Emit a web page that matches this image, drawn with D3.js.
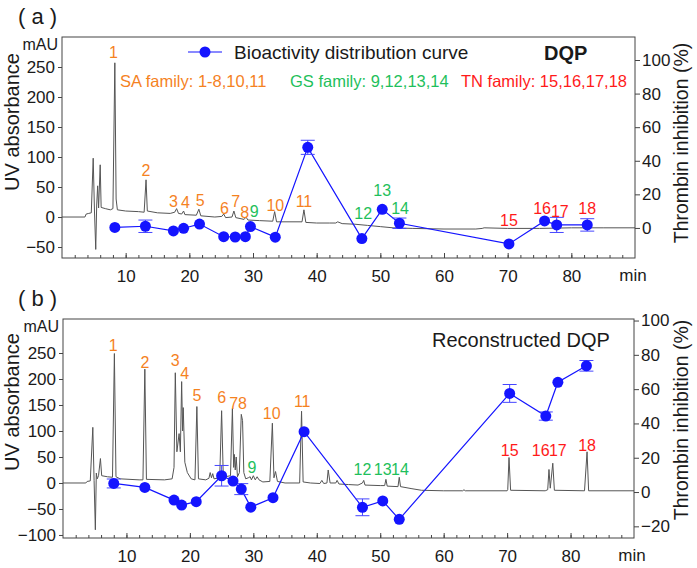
<!DOCTYPE html>
<html>
<head>
<meta charset="utf-8">
<script src="https://cdn.jsdelivr.net/npm/d3@7"></script>
<style>
body { margin: 0; background: #fff; }
svg { font-family: "Liberation Sans", Arial, sans-serif; }
</style>
</head>
<body>
<script>
// peak families
var saPeaks = [1, 2, 3, 4, 5, 6, 7, 8, 10, 11];
var gsPeaks = [9, 12, 13, 14];
var tnPeaks = [15, 16, 17, 18];
var peakIds = [1, 2, 3, 4, 5, 6, 7, 8, 9, 10, 11, 12, 13, 14, 15, 16, 17, 18];

// tick labels
var timeTicks = [10, 20, 30, 40, 50, 60, 70, 80];
var mauTicksA = [-50, 0, 50, 100, 150, 200, 250];
var mauTicksB = [-100, -50, 0, 50, 100, 150, 200, 250];
var inhTicksA = [0, 20, 40, 60, 80, 100];
var inhTicksB = [-20, 0, 20, 40, 60, 80, 100];

// (a) DQP chromatogram, min / mAU
var chromTimeA = [0, 3.6, 3.8, 4.2, 4.6, 4.9, 5.1, 5.3, 5.45, 5.6, 5.75, 6.0, 6.15, 6.8, 7.6, 8.0, 8.3, 8.5, 8.7,
    10, 12, 12.9, 13.2, 13.4, 15, 17, 17.7, 18.0, 18.3, 18.8, 19.1, 19.3, 21.1, 21.5, 21.8, 24, 25.1, 25.4, 25.7,
    26.7, 27.0, 27.3, 28.6, 28.9, 29.2, 31, 33.1, 33.4, 33.7, 37.7, 38.0, 38.3, 40, 42, 43, 43.3, 44, 46, 48, 50,
    52, 55, 60, 65, 66, 66.3, 70, 75, 80, 85, 90];
var chromMauA = [0, 0, 5, 6, 7, 98, 10, -54, 20, 52, 15, 87, 16, 14, 12, 14, 257, 30, 12,
    10, 9, 8, 62, 10, 7, 6, 8, 14, 6, 5, 10, 4, 3, 13, 2, 0, 1, 5, -1,
    0, 10, -1, -4, 0, -5, -6, -7, 9, -8, -8, 12, -9, -10, -10, -10, -8, -11, -12, -14, -16,
    -18, -19, -20, -20, -19, -18, -19, -19, -18, -18, -18];

// (a) bioactivity, min / % inhibition / error
var bioTimeA = [8.3, 13.1, 17.5, 19.1, 21.6, 25.4, 27.2, 28.8, 29.6, 33.5, 38.6, 47.1, 50.3, 53.0, 70.2, 75.8, 77.7, 82.5];
var bioInhA = [0.3, 1.0, -1.8, -0.2, 2.3, -5.2, -5.4, -5.2, 0.8, -5.5, 48, -6.3, 11.1, 2.8, -9.5, 4.2, 1.8, 1.8];
var bioErrA = [0, 3.7, 0, 0, 0, 0, 0, 0, 0, 0, 4.2, 0, 0, 3.1, 0, 0, 4.5, 3.7];

// (a) peak label anchors, min / mAU
var labelTimeA = [8.1, 13.2, 17.5, 19.4, 21.7, 25.5, 27.3, 28.7, 30.2, 33.5, 38.0, 47.3, 50.3, 53.1, 70.2, 75.4, 78.2, 82.5];
var labelMauA = [275, 78, 27, 25, 28, 14.5, 26, 8, 9, 20, 27, 6, 45, 14.5, -5, 14.5, 9, 14.5];

// (b) reconstructed DQP chromatogram, min / mAU
var chromTimeB = [0, 3.6, 3.8, 4.3, 4.7, 4.9, 5.1, 5.25, 5.4, 5.6, 5.9, 6.1, 7, 7.8, 8.1, 8.35, 9, 12, 12.6, 12.9, 13.15,
    16, 17.2, 17.5, 17.7, 17.95, 18.3, 18.5, 18.7, 18.85, 18.95, 19.2, 19.6, 20.2, 20.8, 21.1, 21.35, 22.5, 23.0,
    23.2, 23.4, 23.6, 23.8, 24.7, 25.0, 25.25, 25.6, 26.4, 26.7, 26.9, 27.0, 27.15, 27.3, 27.5, 27.8, 28.1, 28.3,
    28.5, 28.8, 29.2, 29.5, 29.7, 30.0, 30.3, 30.6, 30.9, 31.5, 32.6, 33.0, 33.25, 33.5, 33.8, 35, 37.3, 37.6, 37.85,
    39, 40.5, 40.8, 41.1, 41.6, 41.8, 42.1, 43, 43.2, 43.5, 45, 46.5, 47.2, 47.4, 47.6, 50, 50.7, 50.9, 51.1, 52.8,
    53.0, 53.2, 55, 56.5, 60, 63, 63.2, 63.4, 70, 70.1, 70.3, 70.55, 76, 76.4, 76.6, 76.8, 77.2, 77.45, 82.2, 82.6,
    82.85, 90];
var chromMauB = [0, 0, 3, 4, 107, 5, -90, 19, 8, 14, 47, 14, 12, 11, 249, 12, 8, 6, 6, 219, 7,
    6, 8, 30, 212, 60, 95, 60, 195, 100, 145, 40, 20, 8, 6, 147, 8, 6, 9,
    20, 10, 18, 8, 10, 139, 20, 12, 14, 143, 30, 55, 25, 50, 12, 20, 132, 120,
    20, 8, 10, 12, 6, 14, 6, 12, 6, 2, 3, 115, 10, 22, 3, 0, 0, 138, 2,
    0, -1, 5, -1, 0, 25, 0, 0, 5, -2, -3, -4, 0, 5, -4, -5, -5, 7, -6, -7,
    11, -7, -11, -14, -15, -15, -13, -15, -15, -13, 49, -14, -15, -13, 26, -10, 38, -14, -15, 60,
    -15, -15];

// (b) bioactivity
var bioTimeB = [8.0, 12.9, 17.5, 18.7, 21.0, 25.0, 26.8, 28.1, 29.6, 33.1, 38.0, 47.2, 50.4, 53.0, 70.4, 76.1, 78.0, 82.5];
var bioInhB = [5.0, 2.7, -4.7, -7.6, -5.6, 9.5, 6.4, 1.7, -8.8, -3.3, 35.2, -8.9, -5.2, -15.9, 57.5, 44.3, 64, 73.6];
var bioErrB = [2.6, 0, 0, 0, 0, 6, 0, 3.2, 0, 0, 0, 4.9, 0, 0, 5.2, 2.4, 0, 3.1];

// (b) peak label anchors
var labelTimeB = [7.9, 12.9, 17.7, 19.2, 21.1, 25.0, 26.9, 28.3, 29.8, 32.9, 37.7, 47.2, 50.4, 53.1, 70.4, 75.3, 78.0, 82.6];
var labelMauB = [265, 233, 236, 211, 169, 165, 154, 154, 31, 135, 158, 26, 26, 26, 63, 63, 63, 73];

var orange = "#f5821f";
var green = "#1fbf5c";
var red = "#ff1a1a";
var blue = "#1414ff";

function familyColor(id) {
    if (saPeaks.indexOf(id) >= 0) return orange;
    if (gsPeaks.indexOf(id) >= 0) return green;
    return red;
}

var width = 697;
var height = 568;

var svg = d3.select('body')
    .append('svg')
    .attr('width', width)
    .attr('height', height);

function drawPanel(p) {
    var g = svg.append('g');
    var x = d3.scaleLinear().domain([0, 90]).range([p.left, p.right]);
    var yL = d3.scaleLinear().domain(p.mauDomain).range([p.bottom, p.top]);
    var yR = d3.scaleLinear().domain(p.inhDomain).range([p.bottom, p.top]);

    // chromatogram
    var trace = p.chromTime.map(function (t, i) { return [t, p.chromMau[i]]; });
    g.append('path')
        .datum(trace)
        .attr('fill', 'none')
        .attr('stroke', '#555')
        .attr('stroke-width', 1)
        .attr('stroke-linejoin', 'round')
        .attr('d', d3.line()
            .x(function (d) { return x(d[0]); })
            .y(function (d) { return yL(d[1]); }));

    // bioactivity curve
    var bio = p.bioTime.map(function (t, i) { return {t: t, v: p.bioInh[i], e: p.bioErr[i]}; });
    g.append('path')
        .datum(bio)
        .attr('fill', 'none')
        .attr('stroke', blue)
        .attr('stroke-width', 1.2)
        .attr('d', d3.line()
            .x(function (d) { return x(d.t); })
            .y(function (d) { return yR(d.v); }));

    var err = g.selectAll('g.err')
        .data(bio.filter(function (d) { return d.e > 0; }))
        .enter()
        .append('g')
        .attr('stroke', '#4646ff')
        .attr('stroke-width', 1);
    err.append('line')
        .attr('x1', function (d) { return x(d.t); })
        .attr('x2', function (d) { return x(d.t); })
        .attr('y1', function (d) { return yR(d.v - d.e); })
        .attr('y2', function (d) { return yR(d.v + d.e); });
    [-1, 1].forEach(function (s) {
        err.append('line')
            .attr('x1', function (d) { return x(d.t) - 7; })
            .attr('x2', function (d) { return x(d.t) + 7; })
            .attr('y1', function (d) { return yR(d.v + s * d.e); })
            .attr('y2', function (d) { return yR(d.v + s * d.e); });
    });

    g.selectAll('circle.bio')
        .data(bio)
        .enter()
        .append('circle')
        .attr('cx', function (d) { return x(d.t); })
        .attr('cy', function (d) { return yR(d.v); })
        .attr('r', 5.5)
        .attr('fill', blue);

    // peak numbers
    g.selectAll('text.peak')
        .data(peakIds)
        .enter()
        .append('text')
        .text(function (d) { return d; })
        .attr('x', function (d, i) { return x(p.labelTime[i]); })
        .attr('y', function (d, i) { return yL(p.labelMau[i]); })
        .attr('dy', '0.36em')
        .attr('text-anchor', 'middle')
        .attr('font-size', 16)
        .attr('fill', function (d) { return familyColor(d); });

    // frame
    g.append('rect')
        .attr('x', p.left)
        .attr('y', p.top)
        .attr('width', p.right - p.left)
        .attr('height', p.bottom - p.top)
        .attr('fill', 'none')
        .attr('stroke', '#444')
        .attr('stroke-width', 1);

    // axes
    var minor = g.append('g')
        .attr('transform', 'translate(0,' + p.bottom + ')')
        .call(d3.axisBottom(x).tickValues(d3.range(2, 90, 2)).tickSize(-3).tickFormat(''));
    minor.select('.domain').remove();
    minor.selectAll('line').attr('stroke', '#444');

    var xAxis = g.append('g')
        .attr('transform', 'translate(0,' + p.bottom + ')')
        .call(d3.axisBottom(x).tickValues(timeTicks).tickSize(-5).tickPadding(12));
    xAxis.select('.domain').remove();

    var lAxis = g.append('g')
        .attr('transform', 'translate(' + p.left + ',0)')
        .call(d3.axisLeft(yL).tickValues(p.mauTicks).tickSize(4).tickPadding(3));
    lAxis.select('.domain').remove();

    var rAxis = g.append('g')
        .attr('transform', 'translate(' + p.right + ',0)')
        .call(d3.axisRight(yR).tickValues(p.inhTicks).tickSize(5).tickPadding(2));
    rAxis.select('.domain').remove();

    [xAxis, lAxis, rAxis].forEach(function (a) {
        a.attr('font-family', null).attr('font-size', 17);
        a.selectAll('line').attr('stroke', '#444');
        a.selectAll('text').attr('fill', '#1a1a1a');
    });

    g.append('text')
        .text('min')
        .attr('x', p.right - 2)
        .attr('y', p.bottom + 23)
        .attr('text-anchor', 'middle')
        .attr('font-size', 17)
        .attr('fill', '#1a1a1a');

    g.append('text')
        .text('mAU')
        .attr('x', p.left - 4)
        .attr('y', p.top + 13)
        .attr('text-anchor', 'end')
        .attr('font-size', 16)
        .attr('fill', '#1a1a1a');

    g.append('text')
        .text('UV absorbance')
        .attr('transform', 'translate(19,' + p.uvCenter + ') rotate(-90)')
        .attr('text-anchor', 'middle')
        .attr('font-size', 20)
        .attr('fill', '#1a1a1a');

    g.append('text')
        .text('Thrombin inhibition (%)')
        .attr('transform', 'translate(688,' + p.inhCenter + ') rotate(-90)')
        .attr('text-anchor', 'middle')
        .attr('font-size', 19.5)
        .attr('fill', '#1a1a1a');

    g.append('text')
        .text(p.tag)
        .attr('x', 18)
        .attr('y', p.top - 13)
        .attr('font-size', 22)
        .attr('fill', '#1a1a1a')
        .attr('xml:space', 'preserve');

    return {x: x, yL: yL, yR: yR};
}

drawPanel({
    tag: '( a )', top: 37, bottom: 258, left: 62, right: 635,
    mauDomain: [-68.3, 300], inhDomain: [-17.9, 113.7],
    mauTicks: mauTicksA, inhTicks: inhTicksA,
    chromTime: chromTimeA, chromMau: chromMauA,
    bioTime: bioTimeA, bioInh: bioInhA, bioErr: bioErrA,
    labelTime: labelTimeA, labelMau: labelMauA,
    uvCenter: 122, inhCenter: 143
});

drawPanel({
    tag: '( b )', top: 319, bottom: 538, left: 63, right: 634,
    mauDomain: [-105.8, 315.4], inhDomain: [-26.8, 100.9],
    mauTicks: mauTicksB, inhTicks: inhTicksB,
    chromTime: chromTimeB, chromMau: chromMauB,
    bioTime: bioTimeB, bioInh: bioInhB, bioErr: bioErrB,
    labelTime: labelTimeB, labelMau: labelMauB,
    uvCenter: 402, inhCenter: 420
});

// legend and titles of panel (a)
svg.append('line')
    .attr('x1', 188).attr('x2', 222)
    .attr('y1', 52).attr('y2', 52)
    .attr('stroke', blue).attr('stroke-width', 1.2);
svg.append('circle')
    .attr('cx', 205).attr('cy', 52).attr('r', 5.5)
    .attr('fill', blue);
svg.append('text')
    .text('Bioactivity distribution curve')
    .attr('x', 234).attr('y', 59)
    .attr('font-size', 19)
    .attr('fill', '#1a1a1a');
svg.append('text')
    .text('DQP')
    .attr('x', 544).attr('y', 60)
    .attr('font-size', 20)
    .attr('font-weight', 'bold')
    .attr('fill', '#1a1a1a');

var familyText = [
    {text: 'SA family: 1-8,10,11', color: orange, x: 120},
    {text: 'GS family: 9,12,13,14', color: green, x: 290},
    {text: 'TN family: 15,16,17,18', color: red, x: 461}
];
svg.selectAll('text.family')
    .data(familyText)
    .enter()
    .append('text')
    .text(function (d) { return d.text; })
    .attr('x', function (d) { return d.x; })
    .attr('y', 87)
    .attr('font-size', 16.5)
    .attr('fill', function (d) { return d.color; });

svg.append('text')
    .text('Reconstructed DQP')
    .attr('x', 432).attr('y', 347)
    .attr('font-size', 20)
    .attr('fill', '#1a1a1a');
</script>
</body>
</html>
